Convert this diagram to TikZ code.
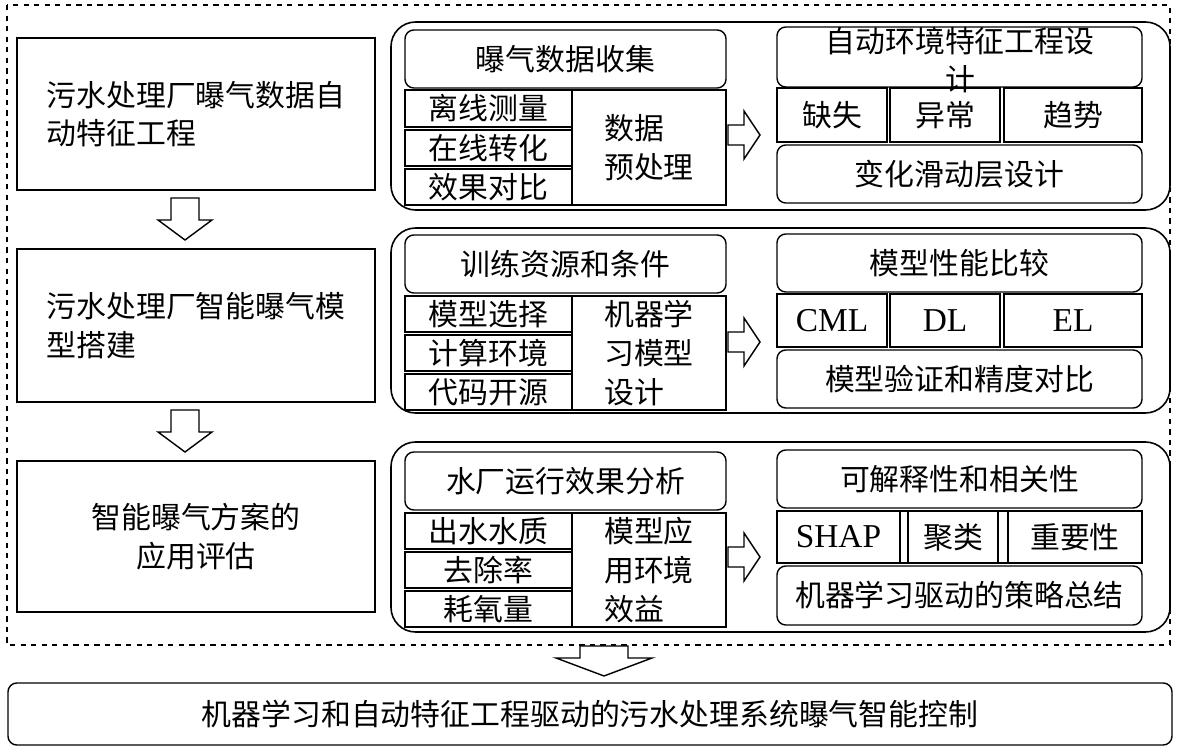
\documentclass[tikz,border=0pt]{standalone}
\usepackage{fontspec}
\setmainfont{Noto Sans CJK SC}
\newfontfamily\lat{Liberation Serif}
\begin{document}
\begin{tikzpicture}[x=0.02cm,y=-0.02cm,
  base/.style={draw,line width=0.8pt,inner sep=0pt,font=\fontsize{17}{22}\selectfont},
  sq/.style={base},
  rd/.style={base,rounded corners=5pt},
  big/.style={draw,line width=0.9pt,rounded corners=14pt},
  blk/.style={draw,line width=0.8pt,fill=white}]
\newcommand{\bx}[7]{\node[#6,minimum width={(#4-#2)*0.02cm},minimum height={(#5-#3)*0.02cm}] (#1) at ({(#2+#4)/2},{(#3+#5)/2}) {#7};}
\useasboundingbox (0,0) rectangle (1181,749);
\draw[dashed,line width=0.6pt] (7,5) rectangle (1170,645);
% left
\bx{L1}{17}{38}{375}{190}{sq,align=left}{污水处理厂曝气数据自\\动特征工程}
\bx{L2}{17}{249}{375}{402}{sq,align=left}{污水处理厂智能曝气模\\型搭建}
\bx{L3}{17}{461}{375}{612}{sq,align=center}{智能曝气方案的\\应用评估}
\newcommand{\darrow}[3]{\draw[blk] (#1-14,#2) -- (#1+14,#2) -- (#1+14,#2+22) -- (#1+27,#2+22) -- (#1,#3) -- (#1-27,#2+22) -- (#1-14,#2+22) -- cycle;}
\darrow{185}{198}{240}
\darrow{185}{410}{452}
\draw[blk] (580,646) -- (628,646) -- (628,658) -- (652,658) -- (604,676) -- (556,658) -- (580,658) -- cycle;
\newcommand{\rarrow}[1]{\draw[blk] (728,#1-10) -- (744,#1-10) -- (744,#1-24) -- (760,#1) -- (744,#1+24) -- (744,#1+10) -- (728,#1+10) -- cycle;}
\bx{B}{8}{683}{1172}{745}{rd}{机器学习和自动特征工程驱动的污水处理系统曝气智能控制}
% block 1
\draw[big] (391,22) rectangle (1170,210);
\bx{a0}{405}{30}{726}{88}{rd}{曝气数据收集}
\bx{a1}{405}{90}{572}{127}{sq}{离线测量}
\bx{a2}{405}{130}{572}{166}{sq}{在线转化}
\bx{a3}{405}{169}{572}{205}{sq}{效果对比}
\bx{a4}{572}{90}{726}{205}{sq,align=left}{数据\\预处理}
\rarrow{135}
\bx{a5}{777}{27}{1142}{87}{rd}{}
\node[base,draw=none,align=center,fill=none] at (960,60) {自动环境特征工程设\\计};
\bx{a6}{777}{88}{887}{142}{sq}{缺失}
\bx{a7}{890}{88}{1000}{142}{sq}{异常}
\bx{a8}{1004}{88}{1142}{142}{sq}{趋势}
\bx{a9}{777}{145}{1142}{203}{rd}{变化滑动层设计}
% block 2
\draw[big] (391,228) rectangle (1170,413);
\bx{b0}{405}{235}{726}{293}{rd}{训练资源和条件}
\bx{b1}{405}{296}{572}{332}{sq}{模型选择}
\bx{b2}{405}{335}{572}{371}{sq}{计算环境}
\bx{b3}{405}{374}{572}{410}{sq}{代码开源}
\bx{b4}{572}{296}{726}{410}{sq,align=left}{机器学\\习模型\\设计}
\rarrow{342}
\bx{b5}{777}{234}{1142}{292}{rd}{模型性能比较}
\bx{b6}{777}{294}{887}{347}{sq}{\lat\fontsize{19}{22}\selectfont CML}
\bx{b7}{890}{294}{1000}{347}{sq}{\lat\fontsize{19}{22}\selectfont DL}
\bx{b8}{1004}{294}{1142}{347}{sq}{\lat\fontsize{19}{22}\selectfont EL}
\bx{b9}{777}{350}{1142}{408}{rd}{模型验证和精度对比}
% block 3
\draw[big] (391,442) rectangle (1170,632);
\bx{c0}{405}{452}{726}{510}{rd}{水厂运行效果分析}
\bx{c1}{405}{513}{572}{549}{sq}{出水水质}
\bx{c2}{405}{552}{572}{588}{sq}{去除率}
\bx{c3}{405}{591}{572}{627}{sq}{耗氧量}
\bx{c4}{572}{513}{726}{627}{sq,align=left}{模型应\\用环境\\效益}
\rarrow{557}
\bx{c5}{777}{450}{1142}{508}{rd}{可解释性和相关性}
\bx{c6}{777}{511}{900}{563}{sq}{\lat\fontsize{19}{22}\selectfont SHAP}
\bx{cg1}{900}{511}{908}{563}{sq}{}
\bx{c7}{908}{511}{998}{563}{sq}{聚类}
\bx{cg2}{998}{511}{1008}{563}{sq}{}
\bx{c8}{1008}{511}{1142}{563}{sq}{重要性}
\bx{c9}{777}{566}{1142}{625}{rd}{机器学习驱动的策略总结}
\end{tikzpicture}
\end{document}
